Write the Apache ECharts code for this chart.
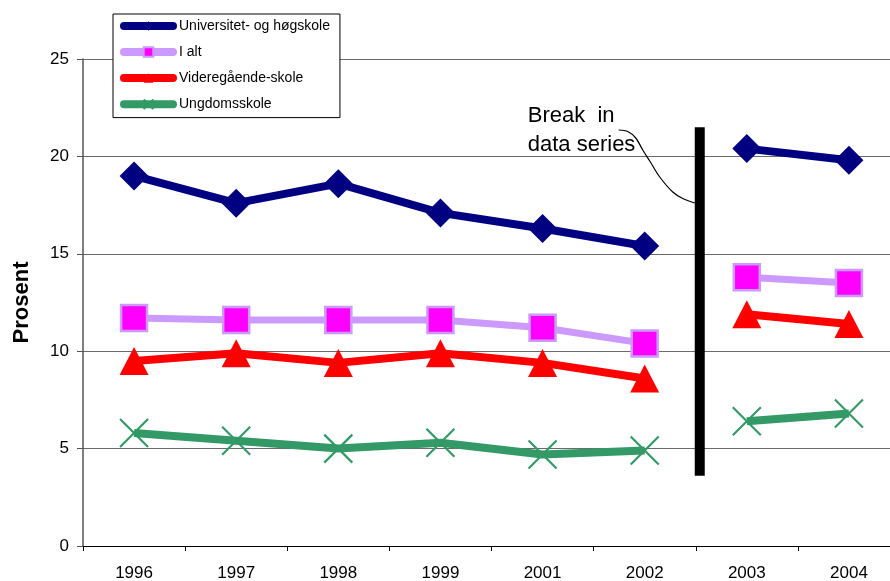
<!DOCTYPE html>
<html>
<head>
<meta charset="utf-8">
<script src="https://cdn.jsdelivr.net/npm/echarts@6/dist/echarts.min.js"></script>
<style>
  html, body { margin: 0; padding: 0; background: #fff; }
  #chart { width: 890px; height: 581px; }
</style>
</head>
<body>
<div id="chart"></div>
<script>
// Year categories; the series are broken between 2002 and 2003
const years = ['1996', '1997', '1998', '1999', '2001', '2002', '2003', '2004'];
const breakAfter = 6; // number of points before the break

// Share (prosent) by school type
const universitet = [19.0, 17.6, 18.6, 17.1, 16.3, 15.4, 20.4, 19.8];
const iAlt        = [11.7, 11.6, 11.6, 11.6, 11.2, 10.4, 13.8, 13.5];
const videregaaende = [9.5, 9.9, 9.4, 9.9, 9.4, 8.6, 11.9, 11.4];
const ungdomsskole = [5.8, 5.4, 5.0, 5.3, 4.7, 4.9, 6.4, 6.8];

const yTicks = { min: 0, max: 25, interval: 5 };

const FONT = '"Liberation Sans", Arial, sans-serif';

function splitSeries(values, part) {
  return values.map((v, i) => (part === 0 ? (i < breakAfter ? v : null) : (i >= breakAfter ? v : null)));
}

const styles = [
  {
    name: 'Universitet- og høgskole', data: universitet,
    symbol: 'diamond', symbolSize: 29,
    lineStyle: { color: '#000080', width: 8 },
    itemStyle: { color: '#000080' }
  },
  {
    name: 'I alt', data: iAlt,
    symbol: 'rect', symbolSize: 26,
    lineStyle: { color: '#CC99FF', width: 7 },
    itemStyle: { color: '#FF00FF', borderColor: '#CC99FF', borderWidth: 2.5 }
  },
  {
    name: 'Videregående-skole', data: videregaaende,
    symbol: 'triangle', symbolSize: [29, 28],
    lineStyle: { color: '#FF0000', width: 8 },
    itemStyle: { color: '#FF0000' }
  },
  {
    name: 'Ungdomsskole', data: ungdomsskole,
    symbol: 'path://M0,0L10,10M10,0L0,10', symbolSize: 28,
    lineStyle: { color: '#339966', width: 8 },
    itemStyle: { color: 'none', borderColor: '#339966', borderWidth: 2.2 }
  }
];

const series = [];
styles.forEach(s => {
  [0, 1].forEach(part => {
    series.push({
      type: 'line',
      name: s.name,
      data: splitSeries(s.data, part),
      symbol: s.symbol,
      symbolSize: s.symbolSize,
      showAllSymbol: true,
      connectNulls: false,
      lineStyle: s.lineStyle,
      itemStyle: s.itemStyle,
      emphasis: { disabled: true },
      animation: false,
      z: 3
    });
  });
});

const chart = echarts.init(document.getElementById('chart'), null, { renderer: 'canvas' });

chart.setOption({
  backgroundColor: '#ffffff',
  animation: false,
  textStyle: { fontFamily: FONT },
  // the plot area runs a little past the right edge of the canvas
  grid: { left: 83, width: 817, top: 59, bottom: 35, containLabel: false, outerBoundsMode: 'none' },
  legend: {
    orient: 'vertical',
    left: 113,
    top: 14,
    padding: [5, 10, 6, 7],
    itemWidth: 49,
    itemHeight: 12,
    itemGap: 12,
    backgroundColor: '#ffffff',
    borderColor: '#000000',
    borderWidth: 1,
    borderRadius: 0,
    selectedMode: false,
    lineStyle: { width: 8, cap: 'round' },
    textStyle: { fontFamily: FONT, fontSize: 14, color: '#000', padding: [0, 0, 0, 1] },
    data: styles.map(s => s.name),
    z: 10
  },
  xAxis: {
    type: 'category',
    data: years,
    boundaryGap: true,
    axisLine: { lineStyle: { color: '#000', width: 1.2 } },
    axisTick: { show: true, length: 5, lineStyle: { color: '#000' } },
    axisLabel: { fontFamily: FONT, fontSize: 17, color: '#000', margin: 19 },
    splitLine: { show: false }
  },
  yAxis: {
    type: 'value',
    min: yTicks.min,
    max: yTicks.max,
    interval: yTicks.interval,
    name: 'Prosent',
    nameLocation: 'middle',
    nameGap: 50,
    nameRotate: 90,
    nameTextStyle: { fontFamily: FONT, fontSize: 22, fontWeight: 'bold', color: '#000' },
    axisLine: { show: true, lineStyle: { color: '#555', width: 1.5 } },
    axisTick: { show: true, length: 6, lineStyle: { color: '#555' } },
    axisLabel: { fontFamily: FONT, fontSize: 17, color: '#000', margin: 14 },
    splitLine: { show: true, lineStyle: { color: '#6a6a6a', width: 1 } }
  },
  series: series
});

// Break marker and its annotation, placed from axis coordinates
function drawBreak() {
  const p2002 = chart.convertToPixel({ xAxisIndex: 0 }, '2002');
  const p2003 = chart.convertToPixel({ xAxisIndex: 0 }, '2003');
  const xb = (p2002 + p2003) / 2 + 4;
  const yTop = chart.convertToPixel({ yAxisIndex: 0 }, 21.5);
  const yBot = chart.convertToPixel({ yAxisIndex: 0 }, 3.6);
  chart.setOption({
    graphic: [
      {
        type: 'line',
        shape: { x1: xb, y1: yTop, x2: xb, y2: yBot },
        style: { stroke: '#000', lineWidth: 10 },
        z: 5
      },
      {
        type: 'text',
        x: xb - 172,
        y: 101,
        style: {
          text: 'Break  in\ndata series',
          fontFamily: FONT,
          fontSize: 22,
          lineHeight: 29,
          fill: '#000'
        },
        z: 6
      },
      {
        type: 'polyline',
        shape: {
          points: [
            [xb - 81, 130], [xb - 72, 131.5], [xb - 64, 138], [xb - 57, 150],
            [xb - 50, 161], [xb - 40, 177], [xb - 27, 192], [xb - 17, 198.5], [xb - 5, 203]
          ],
          smooth: 0.35
        },
        style: { stroke: '#000', lineWidth: 1.2, fill: null },
        z: 6
      }
    ]
  });
}
drawBreak();
</script>
</body>
</html>
